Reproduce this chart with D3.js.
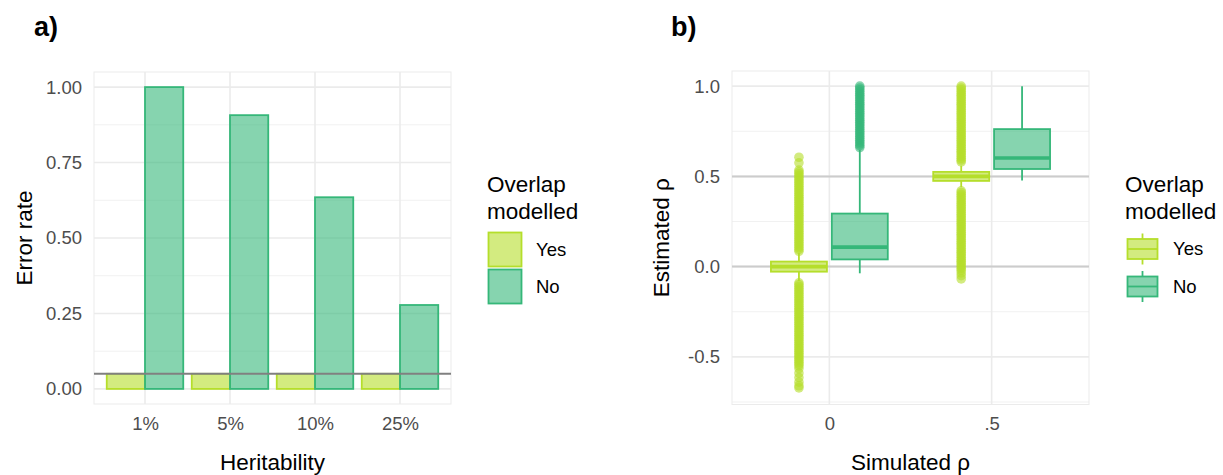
<!DOCTYPE html>
<html><head><meta charset="utf-8">
<script src="https://cdn.jsdelivr.net/npm/d3@7"></script>
<style>
body{margin:0;background:#fff;}
svg text{font-family:"Liberation Sans",Arial,Helvetica,sans-serif;}
</style></head>
<body>
<svg id="c" width="1223" height="475"></svg>
<script>
// ---------- DATA ----------
const heritability = ["1%", "5%", "10%", "25%"];
const groups = ["Yes", "No"];
const errorYes = [0.05, 0.05, 0.05, 0.05];
const errorNo = [1.00, 0.907, 0.635, 0.278];
const alphaLine = 0.05;
const errTicks = [0, 0.25, 0.5, 0.75, 1];
const errTickLabels = ["0.00", "0.25", "0.50", "0.75", "1.00"];

const simulated = ["0", ".5"];
const rhoTicks = [-0.5, 0, 0.5, 1];
const rhoTickLabels = ["-0.5", "0.0", "0.5", "1.0"];
const refLines = [0, 0.5];
// box stats: [lowerWhisker, q1, median, q3, upperWhisker]
const boxYes = [[-0.08, -0.028, 0.0, 0.028, 0.077], [0.44, 0.475, 0.50, 0.525, 0.56]];
const boxNo = [[-0.037, 0.04, 0.108, 0.294, 0.648], [0.477, 0.541, 0.602, 0.762, 1.0]];
// outliers (dense columns of points)
const outYes0 = [0.085,0.095,0.105,0.115,0.125,0.135,0.145,0.155,0.165,0.175,0.185,0.195,0.205,0.215,0.225,0.235,0.245,0.255,0.265,0.275,
  0.285,0.295,0.305,0.315,0.325,0.335,0.345,0.355,0.365,0.375,0.385,0.395,0.405,0.415,0.425,0.435,0.445,0.455,0.465,0.475,
  0.485,0.495,0.505,0.515,0.525,0.535,0.575,0.606,
  -0.09,-0.10,-0.11,-0.12,-0.13,-0.14,-0.15,-0.16,-0.17,-0.18,-0.19,-0.20,-0.21,-0.22,-0.23,-0.24,-0.25,-0.26,-0.27,-0.28,
  -0.29,-0.30,-0.31,-0.32,-0.33,-0.34,-0.35,-0.36,-0.37,-0.38,-0.39,-0.40,-0.41,-0.42,-0.43,-0.44,-0.45,-0.46,-0.47,-0.48,
  -0.49,-0.50,-0.51,-0.52,-0.53,-0.54,-0.55,-0.565,-0.59,-0.615,-0.64,-0.66,-0.672];
const outNo0 = [0.66,0.67,0.68,0.69,0.70,0.71,0.72,0.73,0.74,0.75,0.76,0.77,0.78,0.79,0.80,0.81,0.82,0.83,0.84,0.85,
  0.86,0.87,0.88,0.89,0.90,0.91,0.92,0.93,0.94,0.95,0.96,0.97,0.98,0.99,1.0];
const outYes5 = [0.58,0.59,0.60,0.61,0.62,0.63,0.64,0.65,0.66,0.67,0.68,0.69,0.70,0.71,0.72,0.73,0.74,0.75,0.76,0.77,
  0.78,0.79,0.80,0.81,0.82,0.83,0.84,0.85,0.86,0.87,0.88,0.89,0.90,0.91,0.92,0.93,0.94,0.95,0.96,0.97,0.98,0.99,1.0,
  0.42,0.41,0.40,0.39,0.38,0.37,0.36,0.35,0.34,0.33,0.32,0.31,0.30,0.29,0.28,0.27,0.26,0.25,0.24,0.23,0.22,0.21,
  0.20,0.19,0.18,0.17,0.16,0.15,0.14,0.13,0.12,0.11,0.10,0.09,0.08,0.07,0.06,0.05,0.04,0.03,0.02,0.01,0.0,-0.01,
  -0.02,-0.035,-0.05,-0.068];
const outNo5 = [];

const colYes = "#b5de2b", colNo = "#35b779";
const fillAlpha = 0.6;

const svg = d3.select("#c");
const FONT_TICK = 18.5, FONT_TITLE = 22.5;

function grid(g, x, y, cats, majors, minors, L, R, T, B) {
  minors.forEach(v => g.append("line").attr("x1", L).attr("x2", R).attr("y1", y(v)).attr("y2", y(v))
    .attr("stroke", "#f1f1f1").attr("stroke-width", 1));
  majors.forEach(v => g.append("line").attr("x1", L).attr("x2", R).attr("y1", y(v)).attr("y2", y(v))
    .attr("stroke", "#ebebeb").attr("stroke-width", 1.6));
  cats.forEach(c => g.append("line").attr("x1", x(c)).attr("x2", x(c)).attr("y1", T).attr("y2", B)
    .attr("stroke", "#ebebeb").attr("stroke-width", 1.6));
  g.append("rect").attr("x", L).attr("y", T).attr("width", R - L).attr("height", B - T)
    .attr("fill", "none").attr("stroke", "#ebebeb").attr("stroke-width", 1);
}

function axes(g, x, y, cats, catLabels, ticks, tickLabels, L, B) {
  const ay = d3.axisLeft(y).tickValues(ticks).tickFormat((d, i) => tickLabels[i]).tickSize(0).tickPadding(12);
  const gy = g.append("g").attr("transform", `translate(${L},0)`).call(ay);
  gy.select(".domain").remove();
  gy.selectAll("text").attr("fill", "#4d4d4d").style("font-size", FONT_TICK + "px");
  const ax = d3.axisBottom(x).tickFormat((d, i) => catLabels[i]).tickSize(0).tickPadding(13);
  const gx = g.append("g").attr("transform", `translate(0,${B})`).call(ax);
  gx.select(".domain").remove();
  gx.selectAll("text").attr("fill", "#4d4d4d").style("font-size", FONT_TICK + "px");
}

// ---------- PANEL A ----------
{
  const L = 94, R = 451, T = 72, B = 404;
  const g = svg.append("g");
  const x = d3.scalePoint().domain(heritability).range([L, R]).padding(0.6);
  const y = d3.scaleLinear().domain([-0.05, 1.05]).range([B, T]);
  grid(g, x, y, heritability, errTicks, [0.125, 0.375, 0.625, 0.875], L, R, T, B);
  const bw = x.step() * 0.45;
  const bars = g.append("g");
  heritability.forEach((h, i) => {
    bars.append("rect").attr("x", x(h) - bw).attr("width", bw)
      .attr("y", y(errorYes[i])).attr("height", y(0) - y(errorYes[i]))
      .attr("fill", colYes).attr("fill-opacity", fillAlpha).attr("stroke", colYes).attr("stroke-width", 1.8);
    bars.append("rect").attr("x", x(h)).attr("width", bw)
      .attr("y", y(errorNo[i])).attr("height", y(0) - y(errorNo[i]))
      .attr("fill", colNo).attr("fill-opacity", fillAlpha).attr("stroke", colNo).attr("stroke-width", 1.8);
  });
  g.append("line").attr("x1", L).attr("x2", R).attr("y1", y(alphaLine)).attr("y2", y(alphaLine))
    .attr("stroke", "#808080").attr("stroke-width", 2);
  axes(g, x, y, heritability, heritability, errTicks, errTickLabels, L, B);
  g.append("text").attr("x", (L + R) / 2).attr("y", 470).attr("text-anchor", "middle")
    .style("font-size", FONT_TITLE + "px").text("Heritability");
  g.append("text").attr("transform", `translate(32,${(T + B) / 2}) rotate(-90)`).attr("text-anchor", "middle")
    .style("font-size", FONT_TITLE + "px").text("Error rate");
  g.append("text").attr("x", 34).attr("y", 36).style("font-size", "27px").style("font-weight", "bold").text("a)");
  // legend
  const lg = g.append("g");
  lg.append("text").attr("x", 487).attr("y", 192).style("font-size", FONT_TITLE + "px").text("Overlap");
  lg.append("text").attr("x", 487).attr("y", 219).style("font-size", FONT_TITLE + "px").text("modelled");
  [colYes, colNo].forEach((c, i) => {
    const cy = 249.5 + i * 37;
    lg.append("rect").attr("x", 488.5).attr("y", cy - 17).attr("width", 33).attr("height", 34)
      .attr("fill", c).attr("fill-opacity", fillAlpha).attr("stroke", c).attr("stroke-width", 1.8);
    lg.append("text").attr("x", 536).attr("y", cy).attr("dy", "0.35em").style("font-size", FONT_TICK + "px").text(groups[i]);
  });
}

// ---------- PANEL B ----------
{
  const L = 732, R = 1089, T = 71, B = 404.5;
  const g = svg.append("g");
  const x = d3.scalePoint().domain(simulated).range([L, R]).padding(0.6);
  const y = d3.scaleLinear().domain([-0.764, 1.084]).range([B, T]);
  grid(g, x, y, simulated, rhoTicks, [-0.75, -0.25, 0.25, 0.75], L, R, T, B);
  refLines.forEach(v => g.append("line").attr("x1", L).attr("x2", R).attr("y1", y(v)).attr("y2", y(v))
    .attr("stroke", "#cccccc").attr("stroke-width", 2));
  const off = x.step() * 0.1875, bw = x.step() * 0.345;
  const outs = [[outYes0, outNo0], [outYes5, outNo5]];
  function box(cx, s, c, outliers) {
    const bg = g.append("g");
    bg.append("line").attr("x1", cx).attr("x2", cx).attr("y1", y(s[3])).attr("y2", y(s[4])).attr("stroke", c).attr("stroke-width", 1.8);
    bg.append("line").attr("x1", cx).attr("x2", cx).attr("y1", y(s[0])).attr("y2", y(s[1])).attr("stroke", c).attr("stroke-width", 1.8);
    bg.append("rect").attr("x", cx - bw / 2).attr("width", bw).attr("y", y(s[3])).attr("height", y(s[1]) - y(s[3]))
      .attr("fill", c).attr("fill-opacity", fillAlpha).attr("stroke", c).attr("stroke-width", 1.8);
    bg.append("line").attr("x1", cx - bw / 2).attr("x2", cx + bw / 2).attr("y1", y(s[2])).attr("y2", y(s[2]))
      .attr("stroke", c).attr("stroke-width", 3.6);
    bg.selectAll("circle.o").data(outliers).enter().append("circle").attr("class", "o")
      .attr("cx", cx).attr("cy", d => y(d)).attr("r", 4.8).attr("fill", c).attr("fill-opacity", fillAlpha);
  }
  simulated.forEach((s, i) => {
    box(x(s) - off, boxYes[i], colYes, outs[i][0]);
    box(x(s) + off, boxNo[i], colNo, outs[i][1]);
  });
  axes(g, x, y, simulated, simulated, rhoTicks, rhoTickLabels, L, B - 0.5);
  g.append("text").attr("x", (L + R) / 2).attr("y", 470).attr("text-anchor", "middle")
    .style("font-size", FONT_TITLE + "px").text("Simulated ρ");
  g.append("text").attr("transform", `translate(669,${(T + B) / 2}) rotate(-90)`).attr("text-anchor", "middle")
    .style("font-size", FONT_TITLE + "px").text("Estimated ρ");
  g.append("text").attr("x", 671).attr("y", 36).style("font-size", "27px").style("font-weight", "bold").text("b)");
  // legend
  const lg = g.append("g");
  lg.append("text").attr("x", 1125).attr("y", 192).style("font-size", FONT_TITLE + "px").text("Overlap");
  lg.append("text").attr("x", 1125).attr("y", 219).style("font-size", FONT_TITLE + "px").text("modelled");
  [colYes, colNo].forEach((c, i) => {
    const cy = 249 + i * 37.5, kx = 1142.5;
    lg.append("line").attr("x1", kx).attr("x2", kx).attr("y1", cy - 15.5).attr("y2", cy + 15.5).attr("stroke", c).attr("stroke-width", 1.8);
    lg.append("rect").attr("x", kx - 15).attr("y", cy - 10).attr("width", 30).attr("height", 20)
      .attr("fill", "#fff");
    lg.append("rect").attr("x", kx - 15).attr("y", cy - 10).attr("width", 30).attr("height", 20)
      .attr("fill", c).attr("fill-opacity", fillAlpha).attr("stroke", c).attr("stroke-width", 1.8);
    lg.append("line").attr("x1", kx - 15).attr("x2", kx + 15).attr("y1", cy).attr("y2", cy).attr("stroke", c).attr("stroke-width", 1.8);
    lg.append("text").attr("x", 1173).attr("y", cy).attr("dy", "0.35em").style("font-size", FONT_TICK + "px").text(groups[i]);
  });
}
</script>
</body></html>
